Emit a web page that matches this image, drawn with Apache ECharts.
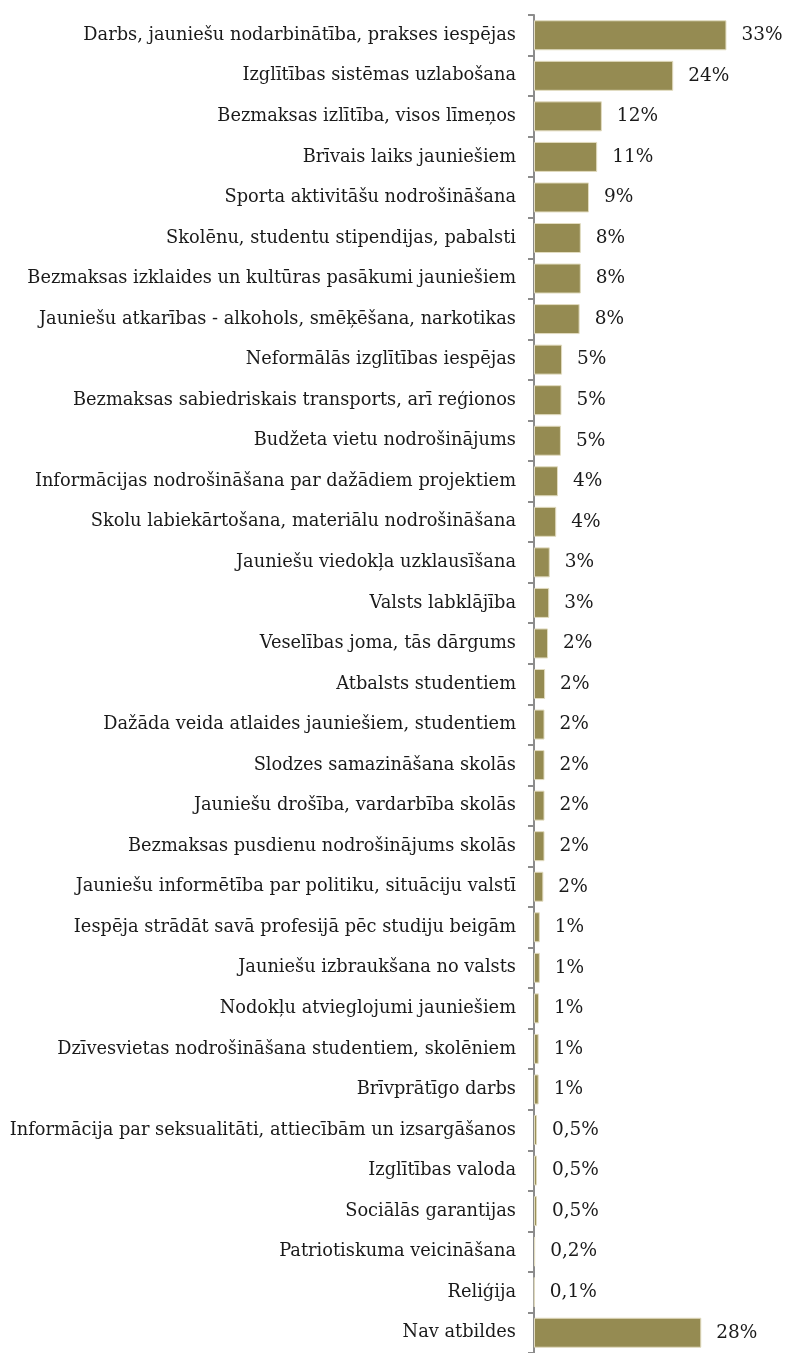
<!DOCTYPE html>
<html>
<head>
<meta charset="utf-8">
<script src="https://cdn.jsdelivr.net/npm/echarts@6/dist/echarts.min.js"></script>
<style>
  html, body { margin: 0; padding: 0; background: #fff; }
  #chart { width: 785px; height: 1353px; }
</style>
</head>
<body>
<div id="chart"></div>
<script>
// topics, top to bottom
const topics = [
  "Darbs, jauniešu nodarbinātība, prakses iespējas",
  "Izglītības sistēmas uzlabošana",
  "Bezmaksas izlītība, visos līmeņos",
  "Brīvais laiks jauniešiem",
  "Sporta aktivitāšu nodrošināšana",
  "Skolēnu, studentu stipendijas, pabalsti",
  "Bezmaksas izklaides un kultūras pasākumi jauniešiem",
  "Jauniešu atkarības - alkohols, smēķēšana, narkotikas",
  "Neformālās izglītības iespējas",
  "Bezmaksas sabiedriskais transports, arī reģionos",
  "Budžeta vietu nodrošinājums",
  "Informācijas nodrošināšana par dažādiem projektiem",
  "Skolu labiekārtošana, materiālu nodrošināšana",
  "Jauniešu viedokļa uzklausīšana",
  "Valsts labklājība",
  "Veselības joma, tās dārgums",
  "Atbalsts studentiem",
  "Dažāda veida atlaides jauniešiem, studentiem",
  "Slodzes samazināšana skolās",
  "Jauniešu drošība, vardarbība skolās",
  "Bezmaksas pusdienu nodrošinājums skolās",
  "Jauniešu informētība par politiku, situāciju valstī",
  "Iespēja strādāt savā profesijā pēc studiju beigām",
  "Jauniešu izbraukšana no valsts",
  "Nodokļu atvieglojumi jauniešiem",
  "Dzīvesvietas nodrošināšana studentiem, skolēniem",
  "Brīvprātīgo darbs",
  "Informācija par seksualitāti, attiecībām un izsargāšanos",
  "Izglītības valoda",
  "Sociālās garantijas",
  "Patriotiskuma veicināšana",
  "Reliģija",
  "Nav atbildes"
];

// share of answers, %
const shares = [
  32.9, 23.8, 11.6, 10.8, 9.4, 8.0, 8.0, 7.8, 4.8, 4.7, 4.6,
  4.1, 3.8, 2.7, 2.6, 2.4, 1.9, 1.8, 1.8, 1.8, 1.8, 1.6,
  1.0, 1.0, 0.85, 0.8, 0.8, 0.5, 0.5, 0.5, 0.2, 0.1, 28.6
];

// printed labels
const shareLabels = [
  "33%", "24%", "12%", "11%", "9%", "8%", "8%", "8%", "5%", "5%", "5%",
  "4%", "4%", "3%", "3%", "2%", "2%", "2%", "2%", "2%", "2%", "2%",
  "1%", "1%", "1%", "1%", "1%", "0,5%", "0,5%", "0,5%", "0,2%", "0,1%", "28%"
];

const font = "DejaVu Serif";

let chart = echarts.init(document.getElementById("chart"));
chart.setOption({
  animation: false,
  grid: {
    left: 534,
    top: 15,
    width: 234,
    height: 1342
  },
  xAxis: {
    type: "value",
    min: 0,
    max: 40,
    show: false
  },
  yAxis: {
    type: "category",
    inverse: true,
    data: topics,
    axisLine: { show: true, lineStyle: { color: "#8c8c8c", width: 2 } },
    axisTick: {
      show: true,
      interval: 0,
      length: 6,
      lineStyle: { color: "#8c8c8c", width: 2 }
    },
    axisLabel: {
      interval: 0,
      margin: 18,
      color: "#1a1a1a",
      fontFamily: font,
      fontSize: 17.8
    }
  },
  series: [
    {
      type: "bar",
      data: shares,
      barWidth: 30,
      itemStyle: {
        color: "#958b52",
        borderColor: "#e2dcc0",
        borderWidth: 1
      },
      label: {
        show: true,
        position: "right",
        distance: 15,
        color: "#1a1a1a",
        fontFamily: font,
        fontSize: 18.5,
        formatter: (p) => shareLabels[p.dataIndex]
      }
    }
  ]
});
</script>
</body>
</html>
